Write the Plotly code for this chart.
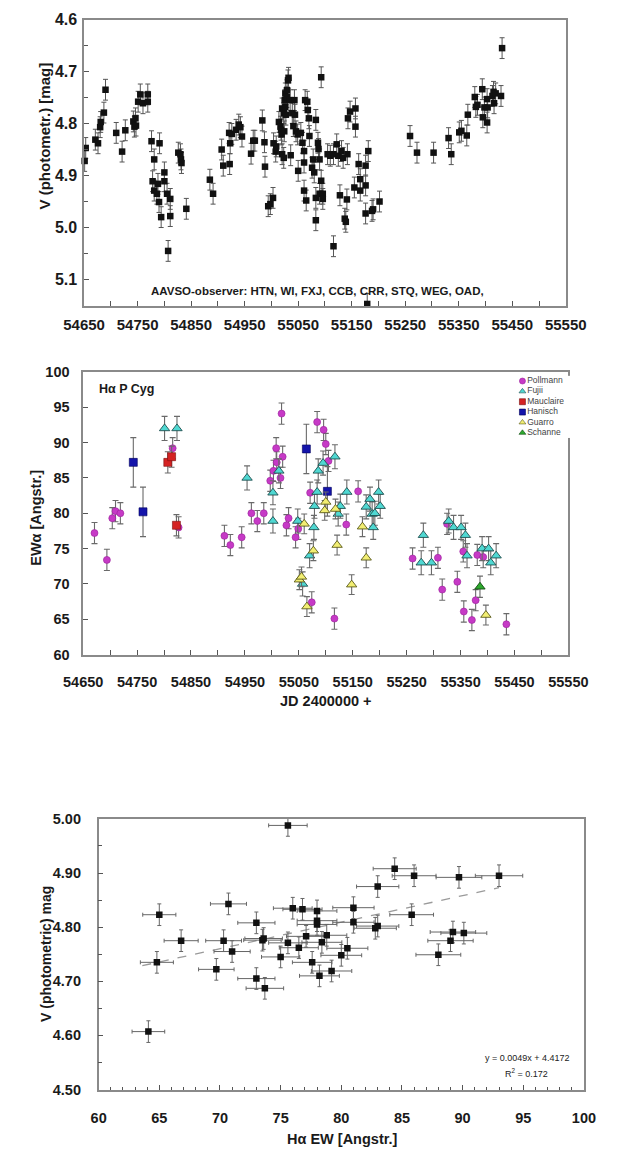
import plotly.graph_objects as go

W, H = 618, 1156

# ---------------- Panel 1: AAVSO V photometry ----------------
phot_jd = [54651, 54653, 54671, 54676, 54680, 54681, 54687, 54690, 54710, 54721,
           54727, 54742, 54744, 54746, 54747, 54751, 54755, 54760, 54769, 54769,
           54776, 54778, 54781, 54781, 54786, 54788, 54790, 54791, 54794, 54800,
           54800, 54805, 54807, 54811, 54811, 54826, 54830, 54831, 54832, 54841,
           54885, 54891, 54907, 54910, 54921, 54922, 54923, 54926, 54934, 54939,
           54942, 54945, 54962, 54966, 54969, 54983, 54987, 54988, 54994, 54998,
           55003, 55004, 55008, 55009, 55014, 55017, 55018, 55019, 55020, 55020,
           55023, 55023, 55024, 55025, 55026, 55026, 55027, 55029, 55029, 55031,
           55032, 55035, 55036, 55039, 55041, 55043, 55044, 55046, 55049, 55050,
           55055, 55058, 55061, 55061, 55061, 55063, 55065, 55067, 55068, 55070,
           55071, 55076, 55078, 55080, 55083, 55083, 55083, 55087, 55088, 55090,
           55090, 55093, 55093, 55096, 55096, 55105, 55110, 55116, 55116, 55122,
           55125, 55128, 55131, 55134, 55137, 55139, 55141, 55142, 55143, 55147,
           55155, 55157, 55157, 55163, 55166, 55166, 55176, 55176, 55176, 55179,
           55181, 55188, 55190, 55202, 55259, 55272, 55303, 55331, 55336, 55351,
           55355, 55365, 55367, 55380, 55382, 55385, 55394, 55395, 55398, 55403,
           55403, 55404, 55413, 55415, 55416, 55419, 55429, 55431]
phot_v = [4.872, 4.847, 4.831, 4.838, 4.807, 4.797, 4.779, 4.735, 4.818, 4.854,
          4.813, 4.796, 4.806, 4.790, 4.804, 4.758, 4.744, 4.761, 4.744, 4.758,
          4.834, 4.911, 4.869, 4.929, 4.935, 4.916, 4.951, 4.838, 4.980, 4.894,
          4.911, 4.935, 5.045, 4.945, 4.978, 4.856, 4.859, 4.869, 4.876, 4.964,
          4.908, 4.935, 4.850, 4.881, 4.818, 4.878, 4.838, 4.820, 4.812, 4.802,
          4.807, 4.825, 4.858, 4.833, 4.833, 4.794, 4.836, 4.883, 4.959, 4.955,
          4.943, 4.838, 4.854, 4.844, 4.797, 4.806, 4.812, 4.821, 4.859, 4.771,
          4.866, 4.780, 4.815, 4.755, 4.742, 4.768, 4.783, 4.736, 4.749, 4.717,
          4.712, 4.755, 4.861, 4.780, 4.805, 4.755, 4.783, 4.815, 4.821, 4.891,
          4.818, 4.837, 4.853, 4.875, 4.929, 4.755, 4.948, 4.758, 4.774, 4.790,
          4.824, 4.885, 4.869, 4.894, 4.793, 4.943, 4.986, 4.837, 4.849, 4.869,
          4.935, 4.711, 4.910, 4.935, 4.945, 4.859, 4.862, 4.859, 5.036, 4.840,
          4.862, 4.938, 4.853, 4.866, 4.983, 4.989, 4.946, 4.859, 4.790, 4.777,
          4.923, 4.771, 4.806, 4.878, 4.907, 4.929, 4.881, 4.919, 4.973, 5.147,
          4.853, 4.968, 4.965, 4.950, 4.824, 4.856, 4.856, 4.828, 4.859, 4.817,
          4.814, 4.823, 4.783, 4.749, 4.768, 4.764, 4.734, 4.788, 4.769, 4.753,
          4.798, 4.769, 4.747, 4.739, 4.761, 4.742, 4.747, 4.655]
PHOT_ERR = 0.02
observers_text = "AAVSO-observer: HTN, WI, FXJ, CCB, CRR, STQ, WEG, OAD,"

# ---------------- Panel 2: H-alpha equivalent width ----------------
pollmann_jd = [54671, 54694, 54704, 54710, 54719, 54816, 54827, 54912, 54923, 54944,
               54962, 54973, 54985, 54997, 55003, 55008, 55009, 55016, 55018, 55020,
               55027, 55031, 55044, 55049, 55071, 55074, 55084, 55096, 55100, 55105,
               55116, 55138, 55160, 55261, 55308, 55316, 55325, 55344, 55355, 55356,
               55371, 55378, 55381, 55392, 55435]
pollmann_ew = [77.2, 73.4, 79.3, 80.3, 80.0, 89.2, 78.0, 76.8, 75.5, 76.6,
               80.0, 78.9, 80.0, 84.6, 86.0, 89.2, 87.2, 85.0, 94.1, 88.0,
               78.3, 79.3, 76.6, 77.8, 82.9, 67.4, 92.9, 91.8, 89.8, 87.4,
               65.1, 78.4, 83.1, 73.6, 73.7, 69.2, 78.5, 70.3, 74.6, 66.1,
               64.9, 67.7, 74.1, 73.8, 64.3]
fujii_jd = [54801, 54824, 54954, 55002, 55002, 55013, 55048, 55057, 55070, 55078,
            55079, 55084, 55086, 55095, 55117, 55123, 55127, 55139, 55175, 55182,
            55186, 55188, 55191, 55198, 55201, 55277, 55281, 55296, 55328, 55337,
            55351, 55359, 55362, 55390, 55402, 55406, 55416]
fujii_ew = [92.0, 92.0, 85.0, 82.9, 78.9, 86.0, 78.9, 70.0, 74.0, 78.0,
            81.0, 83.0, 86.0, 87.1, 88.0, 79.9, 81.0, 83.0, 80.9, 82.0,
            79.9, 78.0, 80.0, 83.0, 81.0, 73.0, 76.9, 73.0, 78.9, 78.0,
            78.0, 76.9, 74.0, 75.0, 75.0, 73.0, 74.0]
mauclaire_jd = [54807, 54814, 54823]
mauclaire_ew = [87.2, 88.0, 78.3]
hanisch_jd = [54743, 54761, 55064, 55103]
hanisch_ew = [87.2, 80.2, 89.1, 83.1]
guarro_jd = [55051, 55055, 55060, 55065, 55077, 55098, 55100, 55118, 55121, 55148,
             55168, 55175, 55397]
guarro_ew = [70.6, 71.0, 78.5, 66.8, 74.7, 80.4, 81.6, 80.6, 75.5, 69.9,
             78.1, 73.7, 65.6]
schanne_jd = [55386]
schanne_ew = [69.6]

observer_names = ["Pollmann", "Fujii", "Mauclaire", "Hanisch", "Guarro", "Schanne"]
observer_errs = [1.5, 1.7, 1.5, 3.5, 1.4, 1.5]

# ---------------- Panel 3: correlation ----------------
corr_ew = [75.6, 64.1, 64.8, 65.0, 66.8, 69.7, 70.3, 70.7, 71.0, 73.0,
           73.0, 73.5, 73.6, 73.7, 75.0, 75.6, 76.0, 76.5, 76.8, 77.1,
           77.6, 78.0, 78.0, 78.0, 78.2, 78.4, 78.8, 79.2, 80.0, 80.5,
           81.0, 81.0, 82.8, 83.0, 83.0, 84.4, 86.0, 85.8, 88.0, 89.0,
           89.2, 89.7, 90.1, 93.0]
corr_v = [4.988, 4.607, 4.735, 4.823, 4.775, 4.722, 4.775, 4.843, 4.755, 4.808,
          4.705, 4.776, 4.779, 4.687, 4.745, 4.771, 4.835, 4.762, 4.833, 4.783,
          4.735, 4.830, 4.812, 4.805, 4.710, 4.772, 4.785, 4.719, 4.748, 4.761,
          4.836, 4.809, 4.798, 4.802, 4.875, 4.908, 4.895, 4.823, 4.749, 4.775,
          4.791, 4.892, 4.789, 4.895]
CORR_V_ERR = 0.02
CORR_EW_ERR_PCT = 2.1
TREND_SLOPE = 0.0049
TREND_INTERCEPT = 4.4172
TREND_R2 = 0.172
TREND_X = [63.6, 93.0]
trend_y = [TREND_SLOPE * x + TREND_INTERCEPT for x in TREND_X]

# ---------------- helpers ----------------
def px(x):
    return x / W

def py(y):
    return 1 - y / H

FONT = "Liberation Sans, Arial, sans-serif"
TXT = "#1a1a1a"

fig = go.Figure()

# Panel 1
fig.add_trace(go.Scatter(
    x=phot_jd, y=phot_v, mode="markers", xaxis="x", yaxis="y",
    marker=dict(symbol="square", size=6.5, color="#111"),
    error_y=dict(type="constant", value=PHOT_ERR, color="#555", thickness=1, width=2.5),
    cliponaxis=False, showlegend=False))

# Panel 2
styles = {
    "Pollmann": dict(symbol="circle", size=7, color="#c63ac6", line=dict(color="#9a209a", width=0.6)),
    "Fujii": dict(symbol="triangle-up", size=9, color="#4fd8d2", line=dict(color="#1f4f4f", width=0.9)),
    "Mauclaire": dict(symbol="square", size=8, color="#d42222", line=dict(color="#7a1010", width=0.6)),
    "Hanisch": dict(symbol="square", size=8, color="#1414aa", line=dict(color="#00005a", width=0.6)),
    "Guarro": dict(symbol="triangle-up", size=9, color="#f2ee72", line=dict(color="#5a5a1a", width=0.9)),
    "Schanne": dict(symbol="triangle-up", size=9, color="#2eaa2e", line=dict(color="#104a10", width=0.9)),
}
series = {
    "Pollmann": (pollmann_jd, pollmann_ew),
    "Fujii": (fujii_jd, fujii_ew),
    "Mauclaire": (mauclaire_jd, mauclaire_ew),
    "Hanisch": (hanisch_jd, hanisch_ew),
    "Guarro": (guarro_jd, guarro_ew),
    "Schanne": (schanne_jd, schanne_ew),
}
for name, err in zip(observer_names, observer_errs):
    xs, ys = series[name]
    fig.add_trace(go.Scatter(
        x=xs, y=ys, mode="markers", name=name, xaxis="x2", yaxis="y2",
        marker=styles[name],
        error_y=dict(type="constant", value=err, color="#6a6a6a", thickness=1.1, width=3),
        showlegend=False))

# compact legend drawn on its own hidden axes
fig.add_trace(go.Scatter(
    x=[8] * len(observer_names), y=list(range(len(observer_names) - 1, -1, -1)),
    mode="markers+text", xaxis="x4", yaxis="y4",
    text=observer_names, textposition="middle right",
    textfont=dict(family=FONT, size=8.5, color="#444"),
    marker=dict(symbol=[styles[n]["symbol"] for n in observer_names],
                size=6,
                color=[styles[n]["color"] for n in observer_names],
                line=dict(color=[styles[n]["line"]["color"] for n in observer_names], width=0.6)),
    showlegend=False, hoverinfo="skip"))

# Panel 3
fig.add_trace(go.Scatter(
    x=TREND_X, y=trend_y, mode="lines", xaxis="x3", yaxis="y3",
    line=dict(color="#9a9a9a", width=1.3, dash="dash"), showlegend=False))
fig.add_trace(go.Scatter(
    x=corr_ew, y=corr_v, mode="markers", xaxis="x3", yaxis="y3",
    marker=dict(symbol="square", size=6.5, color="#111"),
    error_y=dict(type="constant", value=CORR_V_ERR, color="#666", thickness=1, width=2),
    error_x=dict(type="percent", value=CORR_EW_ERR_PCT, color="#666", thickness=1, width=2),
    showlegend=False))

def tfont(size):
    return dict(family=FONT, size=size, color=TXT, weight="bold")

axis_common = dict(
    showline=True, linecolor="#8a8a8a", linewidth=1.5, mirror=True,
    ticks="inside", ticklen=5, tickcolor="#555", tickwidth=1,
    showgrid=False, zeroline=False,
)

fig.update_layout(
    width=W, height=H, margin=dict(l=0, r=0, t=0, b=0),
    paper_bgcolor="white", plot_bgcolor="white",
    xaxis=dict(axis_common, domain=[px(67.7), px(584.5)], anchor="y",
               range=[54650, 55550], tick0=54650, dtick=100, tickformat="d",
               tickfont=tfont(15), ticklabelstandoff=5,
               minor=dict(dtick=50, tick0=54650, ticks="inside", ticklen=5, tickcolor="#555")),
    yaxis=dict(axis_common, domain=[py(301.7), py(11.7)], anchor="x",
               range=[5.15, 4.6], tick0=4.6, dtick=0.1, tickformat=".1f",
               tickfont=tfont(16), ticklabelstandoff=2,
               minor=dict(dtick=0.05, tick0=4.6, ticks="inside", ticklen=4, tickcolor="#555")),
    xaxis2=dict(axis_common, domain=[px(66.7), px(587.3)], anchor="y2",
                range=[54650, 55550], tick0=54650, dtick=100, tickformat="d",
                tickfont=tfont(14.5), ticklabelstandoff=13,
                minor=dict(dtick=50, tick0=54650, ticks="inside", ticklen=5, tickcolor="#555")),
    yaxis2=dict(axis_common, domain=[py(655.7), py(369)], anchor="x2",
                range=[60, 100], tick0=60, dtick=5,
                tickfont=tfont(14.5), ticklabelstandoff=9),
    xaxis3=dict(axis_common, domain=[px(83.3), px(604)], anchor="y3",
                range=[60, 100], tick0=60, dtick=5,
                tickfont=tfont(14.5), ticklabelstandoff=14,
                minor=dict(dtick=1, tick0=60, ticks="inside", ticklen=3, tickcolor="#555")),
    yaxis3=dict(axis_common, domain=[py(1096.7), py(822.3)], anchor="x3",
                range=[4.5, 5.0], tick0=4.5, dtick=0.1, tickformat=".2f",
                tickfont=tfont(14.5), ticklabelstandoff=13,
                minor=dict(dtick=0.05, tick0=4.5, ticks="inside", ticklen=4, tickcolor="#555")),
    xaxis4=dict(domain=[px(530), px(612)], anchor="y4", range=[0, 82], visible=False, fixedrange=True),
    yaxis4=dict(domain=[py(436), py(373)], anchor="x4", range=[-0.5, 5.5], visible=False, fixedrange=True),
)

def ann(text, x, y, size, bold=True, angle=0, xanchor="center", color=TXT):
    fig.add_annotation(
        text=text, x=px(x), y=py(y), xref="paper", yref="paper",
        showarrow=False, textangle=angle, xanchor=xanchor, yanchor="middle",
        font=dict(family=FONT, size=size, color=color, weight="bold" if bold else "normal"))

ann("V (photometr.) [mag]", 25, 130, 15, angle=-90)
ann(observers_text, 318.5, 287, 11.5)
ann("EWα [Angstr.]", 16, 517, 14.5, angle=-90)
ann("Hα P Cyg", 82, 386, 12.5, xanchor="left")
ann("JD 2400000 +", 327, 703, 14.5)
ann("V (photometric) mag", 27, 959, 14, angle=-90)
ann("Hα EW [Angstr.]", 345, 1147, 14.5)
ann(f"y = {TREND_SLOPE}x + {TREND_INTERCEPT}", 543, 1065, 9, bold=False, color="#222")
ann(f"R<sup>2</sup> = {TREND_R2}", 542, 1080, 9, bold=False, color="#222")

fig.write_html("out.html")
